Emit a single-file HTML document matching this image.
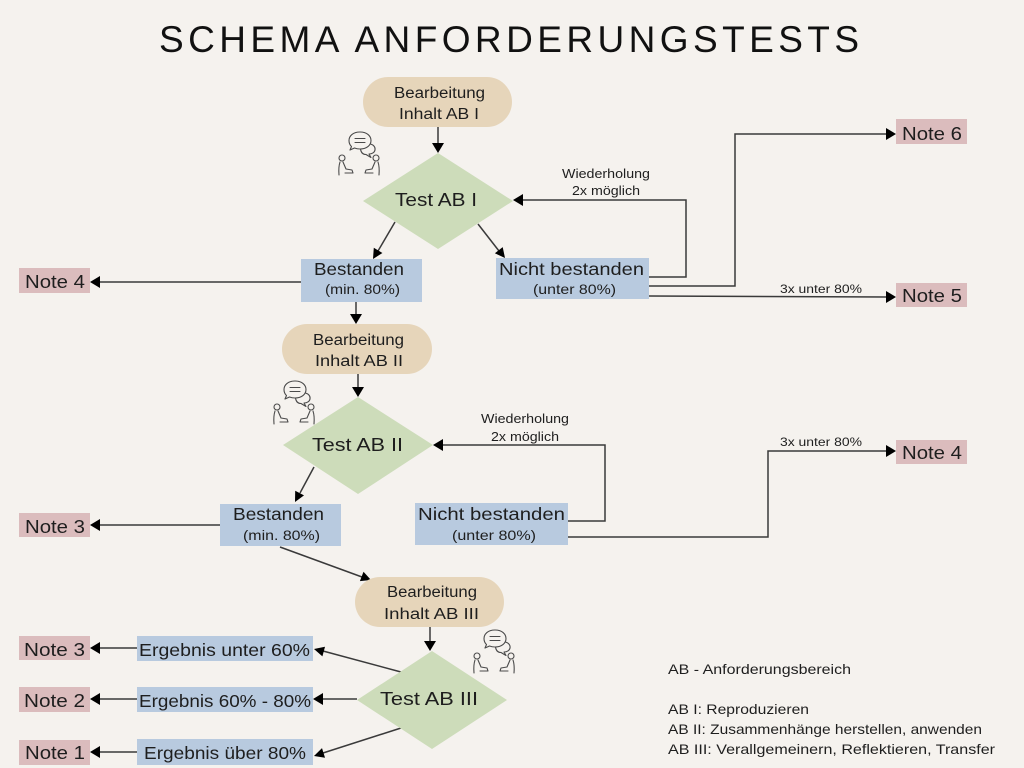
<!DOCTYPE html>
<html><head><meta charset="utf-8"><style>
html,body{margin:0;padding:0;background:#f5f2ee;}
svg{display:block;}
text{font-family:"Liberation Sans",sans-serif;fill:#1e1e1e;}
</style></head><body>
<svg width="1024" height="768" viewBox="0 0 1024 768" xmlns="http://www.w3.org/2000/svg">
<defs>
<g id="ic" fill="none" stroke="#4a4a4a" stroke-width="1.1" stroke-linecap="round" stroke-linejoin="round">
  <path d="M24,1 C31,1 35,5 35,9.5 C35,14 31,18 24,18 C22,18 20,17.6 18.5,17 L14,19 L15.5,15.5 C13.8,14 13,12 13,9.5 C13,5 17,1 24,1 Z"/>
  <line x1="19" y1="7.5" x2="29" y2="7.5"/>
  <line x1="19" y1="11.5" x2="29" y2="11.5"/>
  <path d="M34.5,13 C38,14 39.5,16.5 39,19 C38.5,21.5 36,23 33,23 L35,26.5 L30,23.5 C27,23.5 25,21.5 24.5,18"/>
  <circle cx="6" cy="27" r="3"/>
  <path d="M4,31 C3,34 2.5,38 3,44 M7,31 L10,38 L16,39 L17,42 L9,42"/>
  <circle cx="40" cy="27" r="3"/>
  <path d="M42,31 C43,34 43.5,38 43,44 M39,31 L36,38 L30,39 L29,42 L37,42"/>
</g>
</defs>

<!-- Title -->
<text x="159" y="52" font-size="37" textLength="700" lengthAdjust="spacing" style="fill:#111">SCHEMA ANFORDERUNGSTESTS</text>

<!-- Connectors -->
<g stroke="#3a3a3a" stroke-width="1.5" fill="none">
  <line x1="438" y1="127" x2="438" y2="144"/>
  <line x1="395" y1="222" x2="378" y2="251"/>
  <line x1="478" y1="224" x2="499" y2="251"/>
  <polyline points="649,277 686,277 686,200 522,200"/>
  <polyline points="649,286 735,286 735,134 887,134"/>
  <line x1="649" y1="296" x2="887" y2="297"/>
  <line x1="301" y1="282" x2="99" y2="282"/>
  <line x1="356" y1="302" x2="356" y2="315"/>
  <line x1="358" y1="374" x2="358" y2="388"/>
  <line x1="314" y1="467" x2="300" y2="493"/>
  <polyline points="568,521 605,521 605,445 442,445"/>
  <polyline points="568,537 768,537 768,451 887,451"/>
  <line x1="220" y1="525" x2="99" y2="525"/>
  <line x1="280" y1="547" x2="362" y2="577"/>
  <line x1="430" y1="627" x2="430" y2="642"/>
  <line x1="401" y1="672" x2="323" y2="651"/>
  <line x1="357" y1="699" x2="322" y2="699"/>
  <line x1="401" y1="728" x2="323" y2="753"/>
  <line x1="137" y1="648" x2="99" y2="648"/>
  <line x1="137" y1="699" x2="99" y2="699"/>
  <line x1="137" y1="752" x2="99" y2="752"/>
</g>

<!-- Arrowheads -->
<g fill="#000">
  <polygon points="438,153 432,143 444,143"/>
  <polygon points="373,259 382.4,253 373.8,247.8"/>
  <polygon points="505,258 494.9,253.3 502.7,247.1"/>
  <polygon points="513,200 523,194 523,206"/>
  <polygon points="896,134 886,128 886,140"/>
  <polygon points="896,297 886,291 886,303"/>
  <polygon points="90,282 100,276 100,288"/>
  <polygon points="356,324 350,314 362,314"/>
  <polygon points="358,397 352,387 364,387"/>
  <polygon points="295,502 304,495.4 295.2,490.8"/>
  <polygon points="433,445 443,439 443,451"/>
  <polygon points="896,451 886,445 886,457"/>
  <polygon points="90,525 100,519 100,531"/>
  <polygon points="371,580 359.9,581.1 363.5,571.7"/>
  <polygon points="430,651 424,641 436,641"/>
  <polygon points="314,649 325,646.8 322.4,656.4"/>
  <polygon points="313,699 323,693 323,705"/>
  <polygon points="314,756 325,757.7 322,748.1"/>
  <polygon points="90,648 100,642 100,654"/>
  <polygon points="90,699 100,693 100,705"/>
  <polygon points="90,752 100,746 100,758"/>
</g>

<!-- Pills -->
<rect x="363" y="77" width="149" height="50" rx="25" fill="#e6d5ba"/>
<rect x="282" y="324" width="150" height="50" rx="25" fill="#e6d5ba"/>
<rect x="355" y="577" width="149" height="50" rx="25" fill="#e6d5ba"/>

<!-- Diamonds -->
<polygon points="438,153 513,201 438,249 363,201" fill="#cddcba"/>
<polygon points="358,397 433,445 358,494 283,445" fill="#cddcba"/>
<polygon points="432,651 507,700 432,749 357,700" fill="#cddcba"/>

<!-- Blue boxes -->
<g fill="#b8cadf">
  <rect x="301" y="259" width="121" height="43"/>
  <rect x="496" y="258" width="153" height="41"/>
  <rect x="220" y="504" width="121" height="42"/>
  <rect x="415" y="503" width="153" height="42"/>
  <rect x="137" y="636" width="176" height="25"/>
  <rect x="137" y="687" width="176" height="25"/>
  <rect x="137" y="739" width="176" height="26"/>
</g>

<!-- Pink notes -->
<g fill="#dbbcbd">
  <rect x="896" y="119" width="71" height="25"/>
  <rect x="896" y="283" width="71" height="24"/>
  <rect x="19" y="268" width="71" height="25"/>
  <rect x="19" y="513" width="71" height="24"/>
  <rect x="896" y="440" width="71" height="24"/>
  <rect x="19" y="636" width="71" height="24"/>
  <rect x="19" y="687" width="71" height="25"/>
  <rect x="19" y="740" width="71" height="25"/>
</g>

<!-- Icons -->
<use href="#ic" x="336" y="131"/>
<use href="#ic" x="271" y="380"/>
<use href="#ic" x="471" y="629"/>

<!-- Node texts -->
<g font-size="15.5">
  <text x="394" y="98" textLength="91" lengthAdjust="spacingAndGlyphs">Bearbeitung</text>
  <text x="399" y="119" textLength="80" lengthAdjust="spacingAndGlyphs">Inhalt AB I</text>
  <text x="313" y="345" textLength="91" lengthAdjust="spacingAndGlyphs">Bearbeitung</text>
  <text x="315" y="366" textLength="88" lengthAdjust="spacingAndGlyphs">Inhalt AB II</text>
  <text x="387" y="597" textLength="90" lengthAdjust="spacingAndGlyphs">Bearbeitung</text>
  <text x="384" y="619" textLength="95" lengthAdjust="spacingAndGlyphs">Inhalt AB III</text>
</g>
<g font-size="18.5">
  <text x="395" y="206" textLength="82" lengthAdjust="spacingAndGlyphs">Test AB I</text>
  <text x="312" y="451" textLength="91" lengthAdjust="spacingAndGlyphs">Test AB II</text>
  <text x="380" y="705" textLength="98" lengthAdjust="spacingAndGlyphs">Test AB III</text>
</g>
<g font-size="17.5">
  <text x="314" y="275" textLength="90" lengthAdjust="spacingAndGlyphs">Bestanden</text>
  <text x="499" y="275" textLength="145" lengthAdjust="spacingAndGlyphs">Nicht bestanden</text>
  <text x="233" y="520" textLength="91" lengthAdjust="spacingAndGlyphs">Bestanden</text>
  <text x="418" y="520" textLength="147" lengthAdjust="spacingAndGlyphs">Nicht bestanden</text>
  <text x="139" y="656" textLength="171" lengthAdjust="spacingAndGlyphs">Ergebnis unter 60%</text>
  <text x="139" y="707" textLength="172" lengthAdjust="spacingAndGlyphs">Ergebnis 60% - 80%</text>
  <text x="144" y="759" textLength="162" lengthAdjust="spacingAndGlyphs">Ergebnis über 80%</text>
</g>
<g font-size="14">
  <text x="325" y="294" textLength="75" lengthAdjust="spacingAndGlyphs">(min. 80%)</text>
  <text x="533" y="294" textLength="83" lengthAdjust="spacingAndGlyphs">(unter 80%)</text>
  <text x="243" y="540" textLength="77" lengthAdjust="spacingAndGlyphs">(min. 80%)</text>
  <text x="452" y="540" textLength="84" lengthAdjust="spacingAndGlyphs">(unter 80%)</text>
</g>
<g font-size="18">
  <text x="902" y="140" textLength="60" lengthAdjust="spacingAndGlyphs">Note 6</text>
  <text x="902" y="302" textLength="60" lengthAdjust="spacingAndGlyphs">Note 5</text>
  <text x="25" y="288" textLength="60" lengthAdjust="spacingAndGlyphs">Note 4</text>
  <text x="25" y="533" textLength="60" lengthAdjust="spacingAndGlyphs">Note 3</text>
  <text x="902" y="459" textLength="60" lengthAdjust="spacingAndGlyphs">Note 4</text>
  <text x="24" y="656" textLength="61" lengthAdjust="spacingAndGlyphs">Note 3</text>
  <text x="24" y="707" textLength="61" lengthAdjust="spacingAndGlyphs">Note 2</text>
  <text x="25" y="759" textLength="60" lengthAdjust="spacingAndGlyphs">Note 1</text>
</g>
<g font-size="12.5">
  <text x="562" y="178" textLength="88" lengthAdjust="spacingAndGlyphs">Wiederholung</text>
  <text x="572" y="195" textLength="68" lengthAdjust="spacingAndGlyphs">2x möglich</text>
  <text x="481" y="423" textLength="88" lengthAdjust="spacingAndGlyphs">Wiederholung</text>
  <text x="491" y="441" textLength="68" lengthAdjust="spacingAndGlyphs">2x möglich</text>
  <text x="780" y="293" textLength="82" lengthAdjust="spacingAndGlyphs" font-size="12">3x unter 80%</text>
  <text x="780" y="446" textLength="82" lengthAdjust="spacingAndGlyphs" font-size="12">3x unter 80%</text>
</g>

<!-- Legend -->
<g font-size="14">
  <text x="668" y="674" textLength="183" lengthAdjust="spacingAndGlyphs">AB - Anforderungsbereich</text>
  <text x="668" y="714" textLength="141" lengthAdjust="spacingAndGlyphs">AB I: Reproduzieren</text>
  <text x="668" y="734" textLength="314" lengthAdjust="spacingAndGlyphs">AB II: Zusammenhänge herstellen, anwenden</text>
  <text x="668" y="754" textLength="327" lengthAdjust="spacingAndGlyphs">AB III: Verallgemeinern, Reflektieren, Transfer</text>
</g>
</svg>
</body></html>
